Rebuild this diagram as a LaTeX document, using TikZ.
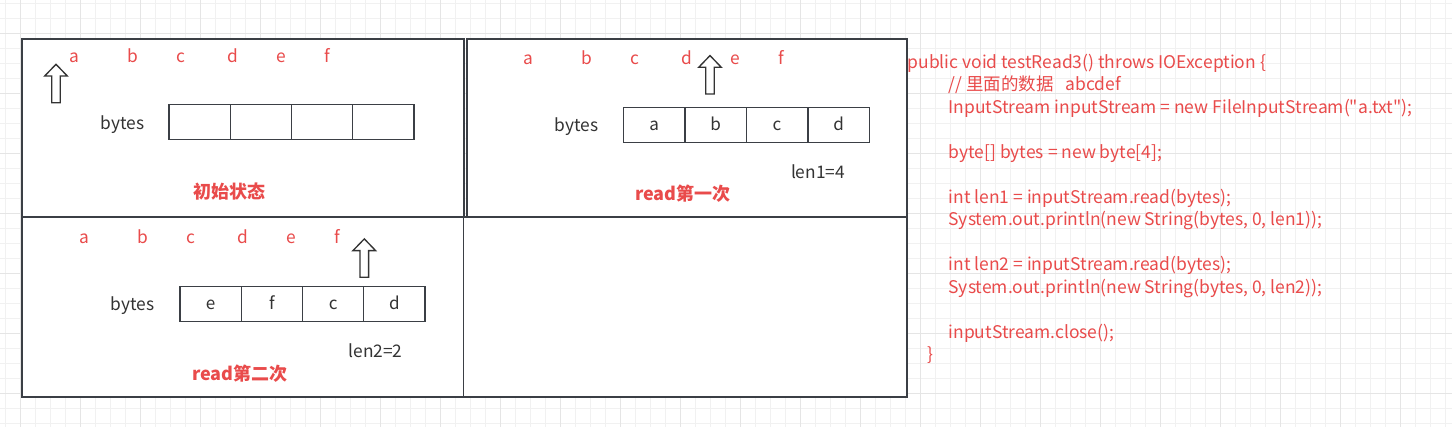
\documentclass[tikz,border=0pt]{standalone}
\usepackage{fontspec}
\setmainfont{Noto Sans CJK SC}
\newfontfamily\codefont{Noto Sans CJK SC}[Ligatures=ResetAll]
\usepackage{xcolor}
\usetikzlibrary{positioning}
\definecolor{ink}{HTML}{333333}
\definecolor{frame}{HTML}{3B3F45}
\definecolor{hot}{HTML}{E94B4B}
\definecolor{gridlo}{HTML}{F1F1F1}
\definecolor{gridhi}{HTML}{E5E5E5}

\tikzset{
  panel/.style={draw=frame,fill=white,line width=1.2pt},
  cell/.style={draw=frame,line width=1pt,outer sep=0pt,inner sep=0pt,
    minimum width=46pt,minimum height=25.9pt,text=ink,text height=0.95em,text depth=0.17em,
    font=\fontsize{12.8pt}{14pt}\selectfont},
  letter/.style={anchor=base,inner sep=0pt,text=hot,font=\fontsize{13pt}{14pt}\selectfont},
  label/.style={anchor=base,inner sep=0pt,text=ink,font=\fontsize{13pt}{14pt}\selectfont},
  heading/.style={inner sep=0pt,text=hot,font=\fontsize{13.5pt}{16pt}\selectfont\bfseries},
  code/.style={anchor=base west,inner sep=0pt,text=hot,font=\codefont\fontsize{13.1pt}{15pt}\selectfont},
  ptr/.pic={\draw[ink,line width=1pt,fill=white,line join=miter]
    (-4.3,0) -- (-4.3,-26.7) -- (-11.3,-26.7) -- (0,-38.4) -- (11.3,-26.7) -- (4.3,-26.7) -- (4.3,0) -- cycle;}
}

\begin{document}
\begin{tikzpicture}[x=0.75pt,y=-0.75pt]
\useasboundingbox (0,0) rectangle (1452,427);
\fill[white] (0,0) rectangle (1452,427);
% background grid
\foreach \gx in {5.7,20.7,...,1452} \draw[gridlo,line width=0.9pt] (\gx,0) -- (\gx,427);
\foreach \gy in {3.3,18.3,...,427} \draw[gridlo,line width=0.9pt] (0,\gy) -- (1452,\gy);
\foreach \gx in {20.7,80.7,...,1452} \draw[gridhi,line width=0.9pt] (\gx,0) -- (\gx,427);
\foreach \gy in {33.3,93.3,...,427} \draw[gridhi,line width=0.9pt] (0,\gy) -- (1452,\gy);

% the four panels
\draw[panel] (21.5,39) rectangle (464,217.3);
\draw[panel] (467,39) rectangle (906.7,217.3);
\draw[panel] (21.5,217.3) rectangle (463.5,396.7);
\draw[panel] (463.5,217.3) rectangle (906.7,396.7);
\draw[frame,line width=2.2pt] (22,39) -- (22,396.7);

% initial state
\foreach \ch/\dx in {a/0,b/59,c/107,d/159,e/207,f/253}
  \node[letter] (s0\ch) at ({74+\dx},63) {\ch};
\pic (p0) at (56,102.7) {ptr};
\node[label] (b0) at (122.5,129.5) {bytes};
\foreach \i in {1,...,4}
  \node[cell] (b0c\i) at ({169+61.25*(\i-0.5)},122) {};
\node[heading] (t0) at (229,191.5) {初始状态};

% first read
\foreach \ch/\dx in {a/0,b/59,c/107,d/159,e/207,f/253}
  \node[letter] (s1\ch) at ({528.3+\dx},65) {\ch};
\pic (p1) at (710,94) {ptr};
\node[label] (b1) at (576.3,131.5) {bytes};
\foreach \t [count=\i] in {a,b,c,d}
  \node[cell] (b1c\i) at ({623.3+61.5*(\i-0.5)},125) {\t};
\node[label] (n1) at (818,179) {len1=4};
\node[heading] (t1) at (683,194) {read第一次};

% second read
\foreach \ch/\dx in {a/0,b/59,c/107,d/159,e/207,f/253}
  \node[letter] (s2\ch) at ({84+\dx},244) {\ch};
\pic (p2) at (364.3,277.3) {ptr};
\node[label] (b2) at (132.5,310.5) {bytes};
\foreach \t [count=\i] in {e,f,c,d}
  \node[cell] (b2c\i) at ({180+61.25*(\i-0.5)},304) {\t};
\node[label] (n2) at (375.5,358) {len2=2};
\node[heading] (t2) at (240,374) {read第二次};

% the java code
\node[code] (l1) at (907.3,68.3) {public void testRead3() throws IOException \{};
\node[code] (l2) at (948.3,90.8) {// 里面的数据\hspace{0.7em}abcdef};
\node[code] (l3) at (948.3,113.3) {InputStream inputStream = new FileInputStream("a.txt");};
\node[code] (l4) at (948.3,158.3) {byte[] bytes = new byte[4];};
\node[code] (l5) at (948.3,203.3) {int len1 = inputStream.read(bytes);};
\node[code] (l6) at (948.3,225.8) {System.out.println(new String(bytes, 0, len1));};
\node[code] (l7) at (948.3,270.8) {int len2 = inputStream.read(bytes);};
\node[code] (l8) at (948.3,293.3) {System.out.println(new String(bytes, 0, len2));};
\node[code] (l9) at (948.3,338.3) {inputStream.close();};
\node[code] (l10) at (927.3,360.8) {\}};
\end{tikzpicture}
\end{document}
